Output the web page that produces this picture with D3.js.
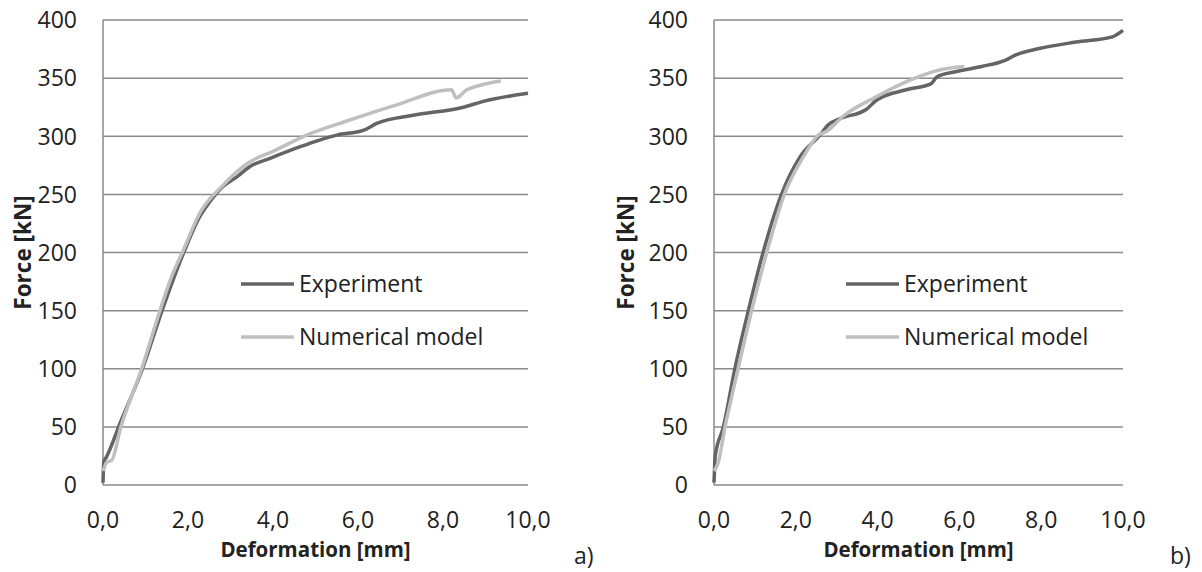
<!DOCTYPE html>
<html>
<head>
<meta charset="utf-8">
<script src="https://cdn.jsdelivr.net/npm/d3@7"></script>
<style>
  body { margin: 0; background: #fff; }
  text { font-family: "Open Sans", sans-serif; fill: #222; }
</style>
</head>
<body>
<script>
// ticks
var yTicks = [0, 50, 100, 150, 200, 250, 300, 350, 400];
var xTicks = [0, 2, 4, 6, 8, 10];
var seriesNames = ["Experiment", "Numerical model"];

// panel a) deformation [mm], force [kN]
var expA = [[0, 2], [0.02, 20], [0.08, 24], [0.4, 53], [0.93, 100], [1.39, 150], [1.89, 199],
  [2.28, 231], [2.5, 243], [2.83, 257], [3.15, 265], [3.46, 274], [3.93, 281], [4.64, 291],
  [4.95, 295], [5.5, 301], [6.12, 305], [6.44, 311], [7.3, 318], [8.48, 325], [8.95, 330], [10.0, 337]];
var numA = [[0, 12], [0.1, 20], [0.2, 21], [0.42, 50], [0.91, 100], [1.34, 150], [1.6, 178],
  [1.89, 202], [2.28, 234], [2.83, 258], [2.99, 264], [3.46, 278], [4.0, 287], [4.79, 301],
  [5.81, 314], [6.91, 327], [8.2, 340], [8.31, 333], [8.56, 340], [8.79, 343], [9.36, 347.5]];

// panel b)
var expB = [[0, 2], [0.01, 11], [0.03, 25], [0.23, 50], [0.51, 100], [0.84, 150], [1.2, 200],
  [1.65, 250], [2.1, 282], [2.59, 301], [2.8, 310], [3.07, 315], [3.72, 323], [3.97, 331], [4.7, 340],
  [5.3, 345], [5.45, 351], [5.9, 355.5], [6.54, 360], [7.13, 365.5], [7.38, 370], [7.95, 375.5],
  [8.85, 381], [9.74, 385.5], [10.0, 391]];
var numB = [[0, 12], [0.1, 19], [0.27, 50], [0.59, 100], [0.92, 150], [1.29, 200], [1.72, 250],
  [2.18, 282], [2.55, 301], [2.75, 304], [3.15, 317], [3.97, 334], [4.78, 348], [5.51, 357], [6.12, 360]];

var W = 1202, H = 572;
var gridColor = "#8a8a8a";
var colors = ["#646464", "#bfbfbf"];

var svg = d3.select("body").append("svg")
  .attr("width", W)
  .attr("height", H);

var fmt = d3.format(".1f");

function drawPanel(p) {
  var x = d3.scaleLinear().domain([0, 10]).range([p.left, p.right]);
  var y = d3.scaleLinear().domain([0, 400]).range([485, 20]);
  var g = svg.append("g");

  // horizontal gridlines
  g.selectAll(".grid")
    .data(yTicks)
    .enter().append("line")
    .attr("x1", p.left).attr("x2", p.right)
    .attr("y1", d => y(d)).attr("y2", d => y(d))
    .attr("stroke", gridColor)
    .attr("stroke-width", 1.5);

  // left axis line
  g.append("line")
    .attr("x1", p.left).attr("x2", p.left)
    .attr("y1", y(0)).attr("y2", y(400))
    .attr("stroke", gridColor)
    .attr("stroke-width", 1.5);

  // y tick labels
  g.selectAll(".yl")
    .data(yTicks)
    .enter().append("text")
    .attr("x", p.left - 26)
    .attr("y", d => y(d))
    .attr("dy", "0.36em")
    .attr("text-anchor", "end")
    .attr("font-size", 23)
    .text(d => d);

  // x tick labels
  g.selectAll(".xl")
    .data(xTicks)
    .enter().append("text")
    .attr("x", d => x(d))
    .attr("y", 528)
    .attr("text-anchor", "middle")
    .attr("font-size", 23)
    .text(d => fmt(d).replace(".", ","));

  // axis titles
  g.append("text")
    .attr("x", (p.left + p.right) / 2)
    .attr("y", 557)
    .attr("text-anchor", "middle")
    .attr("font-size", 20.5)
    .attr("font-weight", "bold")
    .text("Deformation [mm]");

  g.append("text")
    .attr("transform", "translate(" + p.titleX + "," + y(200) + ") rotate(-90)")
    .attr("text-anchor", "middle")
    .attr("font-size", 22.5)
    .attr("font-weight", "bold")
    .text("Force [kN]");

  // curves
  var line = d3.line()
    .x(d => x(d[0]))
    .y(d => y(d[1]))
    .curve(d3.curveMonotoneX);

  [p.exp, p.num].forEach(function (s, i) {
    g.append("path")
      .datum(s)
      .attr("d", line)
      .attr("fill", "none")
      .attr("stroke", colors[i])
      .attr("stroke-width", 3.5)
      .attr("stroke-linejoin", "round");
  });

  // legend
  var leg = g.selectAll(".leg")
    .data(seriesNames)
    .enter().append("g")
    .attr("transform", (d, i) => "translate(" + p.legX + "," + (284 + i * 53) + ")");
  leg.append("line")
    .attr("x1", 0).attr("x2", 53)
    .attr("stroke", (d, i) => colors[i])
    .attr("stroke-width", 3.5);
  leg.append("text")
    .attr("x", 58)
    .attr("dy", "0.36em")
    .attr("font-size", 23)
    .text(d => d);

  // panel label
  g.append("text")
    .attr("x", p.tagX)
    .attr("y", 564)
    .attr("font-size", 23)
    .text(p.tag);
}

drawPanel({ left: 103, right: 528, titleX: 31, legX: 241, tagX: 574, tag: "a)", exp: expA, num: numA });
drawPanel({ left: 714, right: 1123, titleX: 634, legX: 846, tagX: 1170, tag: "b)", exp: expB, num: numB });
</script>
</body>
</html>
